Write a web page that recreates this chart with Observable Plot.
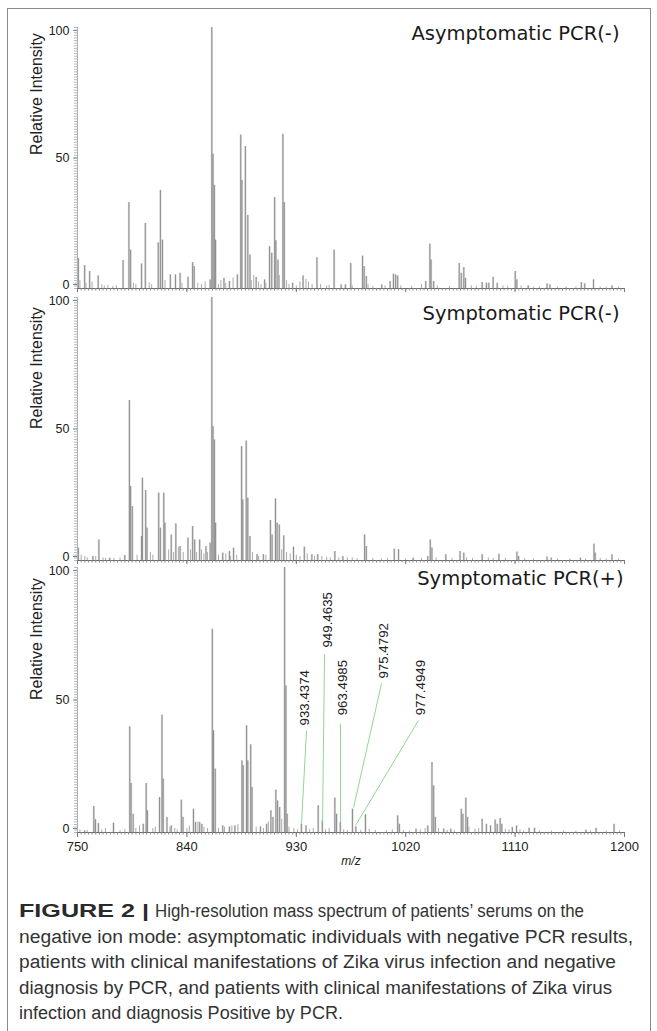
<!DOCTYPE html>
<html><head><meta charset="utf-8">
<script src="https://cdn.jsdelivr.net/npm/d3@7"></script>
<script src="https://cdn.jsdelivr.net/npm/@observablehq/plot@0.6"></script>
<style>
html,body{margin:0;padding:0;background:#fff;}
#fig{position:relative;width:657px;height:1031px;overflow:hidden;background:#fff;}
#frame{position:absolute;left:7px;top:8px;width:644px;height:1060px;border:1px solid #8a8a8a;box-sizing:border-box;}
.panel{position:absolute;left:0;}
</style></head><body><div id="fig"><div id="frame"></div></div>
<script>
// ---------- data ----------
const panelTitles = ["Asymptomatic PCR(-)", "Symptomatic PCR(-)", "Symptomatic PCR(+)"];
const xTickValues = [750, 840, 930, 1020, 1110, 1200];
const yTickValues = [0, 50, 100];

const asymMz = [750.7,755.9,760,767,787.5,792.3,793.7,802.7,805.8,816.4,818.2,819.9,826.4,830.6,834.4,840.9,844.7,846,859.1,860.5,861.5,862.6,863.6,870.5,875,881.5,884.3,885.3,888.1,890.1,891.9,897,903.9,908,909.8,912.2,913.2,914.9,919,920.1,927,935.6,947,961.1,966.9,970.4,974.8,984.5,985.8,987.6,1000.3,1007.2,1009.9,1011.7,1013.4,1036.5,1039.9,1040.9,1043,1064,1065.7,1067.8,1069.2,1082.9,1086.4,1088.4,1091.9,1095.3,1110.1,1111.5,1120.8,1136.3,1138.7,1164.5,1167.3,1174.5,1189.7];
const asymInt = [11.5,8.8,6.5,4.8,10.7,32.9,14.7,9.4,24.9,17.5,37.6,18.5,5.2,5.2,5.8,4.3,9.9,8.4,3.3,100,51.5,39.5,18.5,3.9,2.7,5.2,58.8,41.4,54.4,28,12.8,4.2,3.3,16,13.5,34.8,18.3,10.9,59.1,32.9,2,4.8,11.8,14.7,1.4,1.4,9.6,12.4,8.4,4.6,1.4,2.7,5.5,5.2,4.8,2.7,17,10.9,2.7,9.6,5.8,8,3.9,2.3,2,2,4.3,2,6.5,3.3,1,1.8,1.4,2.3,1.8,3.3,1];
const asymNoiseMz = [752,757,762,770,772,775,779,782,796,798,809,811,822,836,849,852,855,866,868,872,878,893,895,899,901,905,916,922,924,930,933,938,940,943,950,955,957,976,989,993,1003,1016,1025,1033,1046,1056,1074,1078,1100,1104,1115,1125,1130,1145,1152,1160,1180,1185,1195];
const asymNoiseInt = [3,2,2.5,1.5,1,1.2,0.8,1,2,1.5,2.2,1.5,3,2,2,1.5,2.5,1.5,3,2,4,3,5,2.5,1.5,2,5,3,1.5,1,2.5,3.5,2.5,1.5,1.5,1,1.2,1,1.5,0.8,1,1,0.8,1.5,1,0.8,1,0.8,1,0.8,1,0.6,0.6,0.6,0.6,0.6,0.6,0.5,0.5];

const symNegMz = [750.7,762.7,767.6,776.5,788.9,792.7,793.7,795.1,802.7,803.4,806.1,807.2,816.8,818.2,821,822,827.1,830.9,834.4,840.9,844.7,846.4,850.5,855.7,859.1,860.5,861.5,862.6,863.6,869.5,875,878.4,885,886,888.8,890.1,891.9,897.7,902.9,908.7,910.1,912.9,914.2,916,919.7,927.7,936.6,942.8,947.6,961.7,968.3,986.2,987.6,1010.6,1014.1,1026.1,1038.2,1040.2,1041.6,1053,1064.7,1067.8,1082.9,1096.7,1111.5,1112.9,1136.3,1139.7,1163.8,1174.9,1175.9,1189.7];
const symNegInt = [4.7,1.5,7.8,0.9,1.9,60.8,28.1,20.5,9.1,31.3,26.6,12.3,25.6,12.3,25.6,14.2,9.7,13.9,5.3,8.5,12.9,7.8,7.8,5.3,6.6,100,50.9,45.8,14.2,2.8,3.4,4.7,43.3,23,45.4,23.7,9.1,2.2,2.2,15.2,9.7,23.4,14.2,13.5,9.4,5.1,5.1,2.2,2.2,3.4,1.5,9.7,5.3,4.3,4.1,0.9,1.5,7.8,4.7,2.2,3.4,2.8,2.2,2.4,3.2,1.5,1.3,0.9,0.9,6.2,2.8,2.2];
const symNegNoiseMz = [753,756,758,765,771,773,780,785,799,810,812,825,829,833,837,843,848,852,854,857,866,872,876,881,894,899,905,918,922,925,930,933,939,945,951,955,958,965,972,976,980,993,1000,1005,1020,1033,1045,1058,1070,1075,1088,1092,1102,1118,1125,1145,1155,1168,1180,1185,1195];
const symNegNoiseInt = [2,1.5,1,1.5,1,0.8,0.8,1,2,3,2,4,3,5,3,4,3,4,2.5,3,2,2.5,1.5,2,3,1.5,2,4,3,2.5,2,1.5,2.5,1.5,1.5,1.2,1,1,1,1,0.8,0.8,0.6,0.8,0.6,0.8,1,0.8,1,0.8,1,0.8,0.8,0.8,0.6,0.6,0.6,0.6,0.8,0.6,0.5];

const symPosMz = [755.9,763.4,764.8,767.2,779.6,793,794.1,795.8,804.1,806.5,807.5,817.5,819.5,820.5,823.6,827.1,835.4,836.8,845.4,847.1,850.5,852.3,860.9,861.9,863.3,869.5,875,879.5,885.3,886.3,889.1,890.1,892.5,893.6,900.5,905.6,909.1,910.8,913.2,914.6,916.3,920.4,921.5,922.5,934.2,938,948,951.4,961.7,963.1,966.2,976.2,979,986.9,1013.4,1014.8,1028.5,1038.2,1041.6,1043,1044.4,1051.3,1057.1,1065.7,1067.1,1069.5,1070.9,1082.9,1086.4,1089.8,1093.6,1095.3,1097.7,1099.1,1107.7,1111.2,1121.5,1126,1168.3,1176.6,1191.4];
const symPosInt = [0.6,9.8,4.8,3.4,3.5,39.9,18.5,6.9,3.1,18.5,8.2,13.2,44.3,20.1,5.7,2.5,12.2,5.7,8.8,3.8,3.8,3.1,76.7,38.4,23.9,2.5,2.1,2.5,27,25.2,40.3,27,33.1,17,2.1,3.1,8.2,5.7,16,11.9,9.4,100,55.3,6.9,3.1,2.5,10.1,4.4,13,6.9,3.8,8.8,2.1,6.7,6.3,3.1,1.3,2.5,26.4,17.6,5.7,1.3,1.3,8.8,6.9,13,5.7,5,3.1,2.5,4.7,3.1,5.3,3.1,1.9,2.5,1.6,1.6,0.9,1.6,3.1];
const symPosNoiseMz = [752,758,770,773,785,789,798,801,812,814,826,830,832,840,842,849,854,857,866,871,877,882,897,903,907,918,924,928,931,941,944,954,957,969,972,983,990,995,1004,1009,1018,1023,1032,1036,1047,1054,1060,1072,1077,1080,1102,1105,1114,1117,1130,1140,1150,1160,1172,1185,1196];
const symPosNoiseInt = [1,0.8,1,1.5,0.8,1,1.5,2.5,1.5,2,2,1.5,1,1.5,2.5,4,2,1.5,1.5,2,2.5,3,2,1.5,4,5,2,1.5,1,1.2,1.5,1,1.5,1,0.8,0.8,1.2,0.8,0.8,1,0.8,0.6,1,1.5,1.5,0.8,0.8,2,1.2,1.5,1.2,1,1,0.6,0.6,0.6,0.6,0.5,0.6,0.5,0.6];

// annotated peaks (bottom panel)
const annotLabels = ["933.4374","949.4635","963.4985","975.4792","977.4949"];
const annotTextMz = [936.8,955.7,968,1001.7,1032.2];
const annotTextInt = [40.4,69.8,44.2,58.1,44.2];
const annotTopMz = [938.4,953.2,966.4,1000.1,1030.5];
const annotTopInt = [38.5,67.2,41.1,56.2,42.3];
const annotPeakMz = [934.3,951.6,966.4,977.1,978.7];
const annotPeakInt = [3.4,3.8,3.8,9.4,2.6];

const captionBold = "FIGURE 2 |";
const captionLines = [
  "High-resolution mass spectrum of patients\u2019 serums on the",
  "negative ion mode: asymptomatic individuals with negative PCR results,",
  "patients with clinical manifestations of Zika virus infection and negative",
  "diagnosis by PCR, and patients with clinical manifestations of Zika virus",
  "infection and diagnosis Positive by PCR."
];

// ---------- drawing ----------
const fig = document.getElementById("fig");
const xMinor = d3.range(750, 1201, 3);
const yMinor = d3.range(0, 101, 1);
const W = 657;
const tickFont = "Liberation Sans";

function makePanel(cfg) {
  const peaks = cfg.mz.map((m, k) => ({mz: m, v: cfg.inten[k]}));
  const noise = cfg.noiseMz.map((m, k) => ({mz: m, v: cfg.noiseInt[k]}));
  const yLab = (vals, dy) => Plot.axisY({ticks: vals, tickSize: 4, tickPadding: 4, dy, fontSize: 12.5, fontFamily: tickFont, stroke: "#888", fill: "#222", label: null});
  const marks = [
    Plot.ruleX(noise, {x: "mz", y1: 0, y2: "v", stroke: "#a0a0a0", strokeWidth: 0.9}),
    Plot.ruleX(peaks, {x: "mz", y1: 0, y2: "v", stroke: "#bdbdbd", strokeWidth: 2.2, strokeOpacity: 0.55}),
    Plot.ruleX(peaks, {x: "mz", y1: 0, y2: "v", stroke: "#858585", strokeWidth: 0.9}),
    Plot.ruleY([0], {stroke: "#6a6a6a", strokeWidth: 1}),
    Plot.ruleX([750], {y1: 0, y2: 100, stroke: "#b0b0b0", strokeWidth: 1}),
    Plot.axisX({ticks: xMinor, tickSize: 2.5, tickFormat: () => "", stroke: "#8c8c8c", label: null}),
    Plot.axisY({ticks: yMinor, tickSize: 3, tickFormat: () => "", stroke: "#b8b8b8", label: null}),
    yLab([100], 3), yLab([50], 0), yLab([0], -4),
    Plot.text([cfg.title], {frameAnchor: "top-right", dx: cfg.titleDx, dy: cfg.titleDy, textAnchor: "end", lineAnchor: "middle", fontSize: 19.5, fontFamily: "DejaVu Sans", fill: "#1a1a1a"}),
    Plot.text(["Relative Intensity"], {frameAnchor: "left", dx: -41, dy: cfg.ylabDy, rotate: -90, fontSize: 16, fontFamily: tickFont, fill: "#222"})
  ];
  if (cfg.showXLabels) {
    marks.push(Plot.axisX({ticks: xTickValues, tickSize: 5, tickPadding: 4, fontSize: 13, fontFamily: tickFont, stroke: "#777", fill: "#222", label: null, tickFormat: d => String(d)}));
    marks.push(Plot.text(["m/z"], {frameAnchor: "bottom", dy: 32, fontSize: 12, fontStyle: "italic", fontFamily: tickFont, fill: "#222"}));
  } else {
    marks.push(Plot.axisX({ticks: xTickValues, tickSize: 4, tickFormat: () => "", stroke: "#777", label: null}));
  }
  if (cfg.annot) {
    const ann = annotLabels.map((t, k) => ({t, tx: annotTextMz[k], ty: annotTextInt[k], x1: annotTopMz[k], y1: annotTopInt[k], x2: annotPeakMz[k], y2: annotPeakInt[k]}));
    marks.push(Plot.link(ann, {x1: "x1", y1: "y1", x2: "x2", y2: "y2", stroke: "#8fd88f", strokeWidth: 1}));
    marks.push(Plot.text(ann, {x: "tx", y: "ty", text: "t", rotate: -90, textAnchor: "start", fontSize: 13.3, fontFamily: tickFont, fill: "#222"}));
  }
  const p = Plot.plot({
    width: W, height: cfg.height,
    marginLeft: 77, marginRight: 33, marginTop: cfg.mt, marginBottom: cfg.mb,
    x: {domain: [750, 1200], label: null},
    y: {domain: [0, 100], label: null},
    style: {background: "transparent", overflow: "visible"},
    marks
  });
  p.classList.add("panel");
  p.style.top = cfg.top + "px";
  p.style.position = "absolute";
  fig.appendChild(p);
}

makePanel({mz: asymMz, inten: asymInt, noiseMz: asymNoiseMz, noiseInt: asymNoiseInt, title: panelTitles[0],
  top: 0, height: 300, mt: 27, mb: 12, titleDx: -5, titleDy: 6, ylabDy: -3, showXLabels: false});
makePanel({mz: symNegMz, inten: symNegInt, noiseMz: symNegNoiseMz, noiseInt: symNegNoiseInt, title: panelTitles[1],
  top: 290, height: 280, mt: 7, mb: 10, titleDx: -5, titleDy: 16, ylabDy: 0, showXLabels: false});
makePanel({mz: symPosMz, inten: symPosInt, noiseMz: symPosNoiseMz, noiseInt: symPosNoiseInt, title: panelTitles[2],
  top: 560, height: 320, mt: 7, mb: 48, titleDx: -1, titleDy: 11, ylabDy: 0, showXLabels: true, annot: true});

// caption
const cap = d3.select(fig).append("svg")
  .attr("width", W).attr("height", 151)
  .style("position", "absolute").style("left", "0px").style("top", "880px");
const capFont = "Liberation Sans";
const baselines = [37, 62.5, 88, 113.5, 138.5];
const lineEnds = [584, 633, 616, 612, 343];
cap.append("text").attr("x", 19).attr("y", baselines[0])
  .attr("font-family", capFont).attr("font-size", 18).attr("font-weight", "bold").attr("fill", "#2a2a2a")
  .attr("textLength", 130).attr("lengthAdjust", "spacingAndGlyphs").text(captionBold);
captionLines.forEach((t, k) => {
  const x0 = k === 0 ? 155 : 19;
  cap.append("text").attr("x", x0).attr("y", baselines[k])
    .attr("font-family", capFont).attr("font-size", 18).attr("fill", "#333")
    .attr("textLength", lineEnds[k] - x0).attr("lengthAdjust", "spacingAndGlyphs").text(t);
});
</script>
</body></html>
